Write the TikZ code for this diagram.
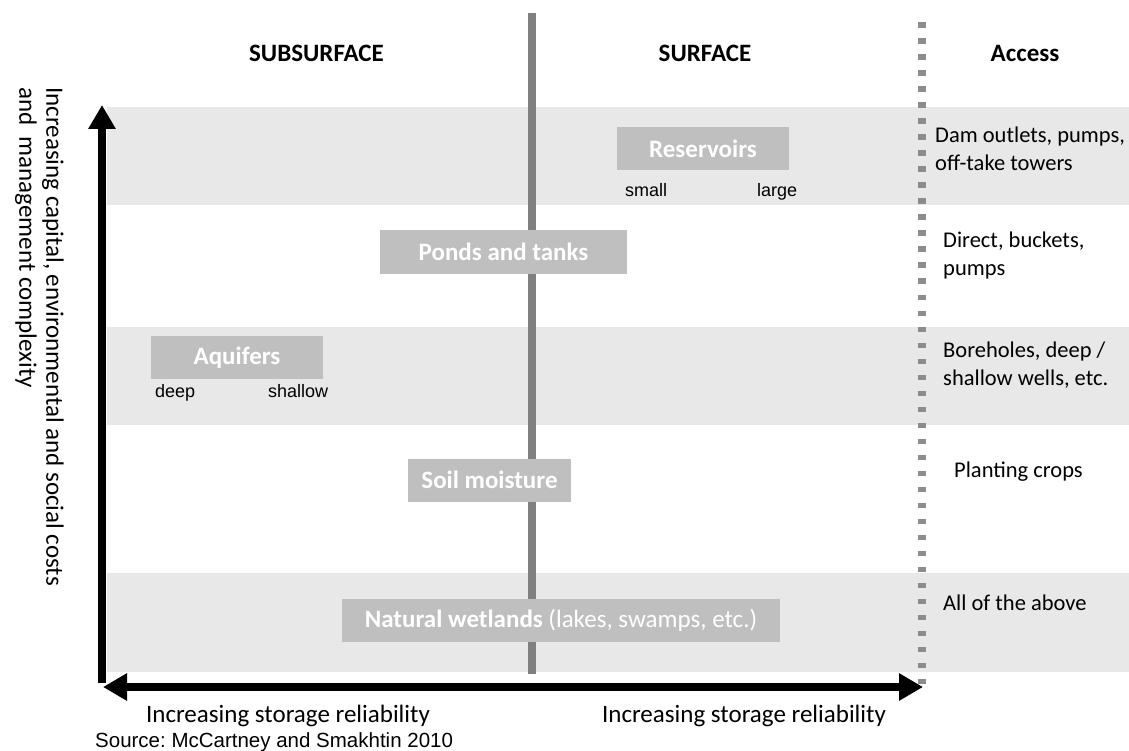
\documentclass[tikz,border=0pt]{standalone}
\usepackage{fontspec}
\setmainfont{Carlito}
\newfontfamily\arialfont{Liberation Sans}
\usetikzlibrary{arrows.meta}
\definecolor{bandgray}{RGB}{232,232,232}
\definecolor{boxgray}{RGB}{191,191,191}
\definecolor{linegray}{RGB}{128,128,128}
\definecolor{dotgray}{RGB}{140,140,140}
\frenchspacing

\begin{document}
\begin{tikzpicture}[x=1pt,y=-1pt]
  \tikzset{BoxStyle/.style     = {shape          = rectangle,
                                 fill           = boxgray,
                                 text           = white,
                                 inner sep      = 0pt,
                                 minimum height = 43pt,
                                 font           = \fontsize{25}{30}\selectfont}}
  \tikzset{HeadStyle/.style    = {anchor         = base,
                                 inner sep      = 0pt,
                                 font           = \fontsize{25}{30}\selectfont\bfseries}}
  \tikzset{AccessStyle/.style  = {anchor         = base west,
                                 align          = left,
                                 inner sep      = 0pt,
                                 font           = \fontsize{22.5}{28}\selectfont}}
  \tikzset{SizeStyle/.style    = {anchor         = base west,
                                 inner sep      = 0pt,
                                 font           = \arialfont\fontsize{18}{21}\selectfont}}
  \tikzset{AxisStyle/.style    = {line width     = 8pt,
                                 arrows         = {Triangle[length=24pt,width=26pt]-Triangle[length=24pt,width=26pt]}}}
  \tikzset{AxisUpStyle/.style  = {line width     = 8pt,
                                 arrows         = {-Triangle[length=24pt,width=26pt]}}}

\useasboundingbox (0,0) rectangle (1129,751);

% bands
\fill[bandgray] (107,107) rectangle (1129,205);
\fill[bandgray] (107,327) rectangle (1129,425);
\fill[bandgray] (107,573) rectangle (1129,672);

\coordinate (M1) at (532,13);
\coordinate (M2) at (532,674);
\coordinate (D1) at (922,22.5);
\coordinate (D2) at (922,684);
\coordinate (O1) at (102,683);
\coordinate (Y1) at (102,105);
\coordinate (X1) at (103,687);
\coordinate (X2) at (923,687);

\draw[linegray, line width=8pt] (M1) -- (M2);
\draw[dotgray, line width=7.5pt, dash pattern=on 5.5pt off 10.5pt] (D1) -- (D2);

\draw[AxisUpStyle] (O1) -- (Y1);
\draw[AxisStyle] (X1) -- (X2);

% storages
\coordinate (R1) at (703,148.5);
\coordinate (P1) at (503.5,252);
\coordinate (Q1) at (237,357.5);
\coordinate (S1) at (489.5,480);
\coordinate (W1) at (561,620.5);

\draw (R1) node[BoxStyle, minimum width=172pt] (res)  {\textbf{Reservoirs}};
\draw (P1) node[BoxStyle, minimum width=247pt] (pond) {\textbf{Ponds and tanks}};
\draw (Q1) node[BoxStyle, minimum width=172pt] (aqu)  {\textbf{Aquifers}};
\draw (S1) node[BoxStyle, minimum width=163pt] (soil) {\textbf{Soil moisture}};
\draw (W1) node[BoxStyle, minimum width=438pt] (wet)  {\textbf{Natural wetlands} (lakes, swamps, etc.)};

\node[SizeStyle] (small)   at (625,197) {small};
\node[SizeStyle] (large)   at (757,197) {large};
\node[SizeStyle] (deep)    at (155,397) {deep};
\node[SizeStyle] (shallow) at (268,397) {shallow};

% headings
\node[HeadStyle] (sub)    at (316.5,62) {SUBSURFACE};
\node[HeadStyle] (surf)   at (705,62)   {SURFACE};
\node[HeadStyle] (access) at (1025,62)  {Access};

% access (base = last line)
\node[AccessStyle] (acc1) at (935,171) {Dam outlets, pumps,\\off-take towers};
\node[AccessStyle] (acc2) at (943,276) {Direct, buckets,\\pumps};
\node[AccessStyle] (acc3) at (943,385) {Boreholes, deep /\\shallow wells, etc.};
\node[AccessStyle] (acc4) at (954,477) {Planting crops};
\node[AccessStyle] (acc5) at (943,610) {All of the above};

% axes
\node[anchor=base, inner sep=0pt, font=\fontsize{25}{30}\selectfont] (rel1) at (288,722) {Increasing storage reliability};
\node[anchor=base, inner sep=0pt, font=\fontsize{25}{30}\selectfont] (rel2) at (744,722) {Increasing storage reliability};
\node[rotate=-90, anchor=north west, align=left, inner sep=0pt,
      font=\fontsize{25}{27}\selectfont] (cost) at (64,87)
      {Increasing capital, environmental and social costs\\and\ \ management complexity};

\node[anchor=base west, inner sep=0pt, font=\arialfont\fontsize{20.5}{25}\selectfont] (src) at (95,747)
      {Source: McCartney and Smakhtin 2010};

\end{tikzpicture}
\end{document}
